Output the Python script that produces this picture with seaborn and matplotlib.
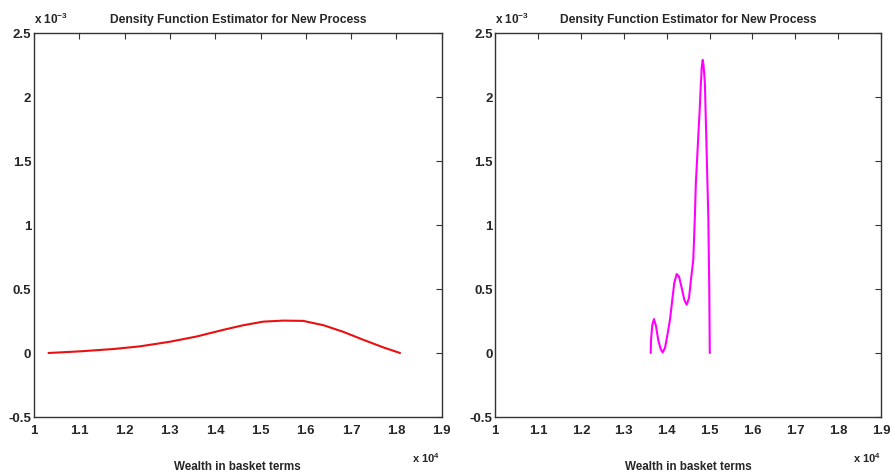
import matplotlib
matplotlib.use("Agg")
import matplotlib.pyplot as plt
import seaborn as sns

# Valores (x en unidades de 1e4, y en unidades de 1e-3)
left_wealth = [1.032, 1.102, 1.175, 1.234, 1.300, 1.359, 1.418, 1.462, 1.506,
               1.550, 1.594, 1.639, 1.683, 1.727, 1.771, 1.808]
left_density = [0.0, 0.013, 0.031, 0.052, 0.088, 0.129, 0.181, 0.217, 0.245,
                0.253, 0.251, 0.217, 0.165, 0.103, 0.044, 0.0]

right_wealth = [1.3626, 1.3633, 1.3664, 1.3703, 1.375, 1.3803, 1.386, 1.3906,
                1.396, 1.401, 1.4076, 1.413, 1.4176, 1.4233, 1.4286, 1.435,
                1.441, 1.4466, 1.452, 1.4566, 1.462, 1.464, 1.466, 1.468,
                1.471, 1.474, 1.477, 1.479, 1.4805, 1.4816, 1.484, 1.486,
                1.489, 1.493, 1.497, 1.4993, 1.5005]
right_density = [0.0, 0.10, 0.22, 0.265, 0.21, 0.10, 0.03, 0.005,
                 0.04, 0.13, 0.26, 0.416, 0.547, 0.617, 0.598, 0.508,
                 0.416, 0.377, 0.43, 0.573, 0.73, 0.91, 1.10, 1.33,
                 1.52, 1.72, 1.90, 2.06, 2.15, 2.23, 2.29, 2.245,
                 2.11, 1.59, 1.07, 0.5, 0.0]

x_ticks = [1.0, 1.1, 1.2, 1.3, 1.4, 1.5, 1.6, 1.7, 1.8, 1.9]
x_tick_labels = ["1", "1.1", "1.2", "1.3", "1.4", "1.5", "1.6", "1.7", "1.8", "1.9"]
y_ticks = [-0.5, 0, 0.5, 1, 1.5, 2, 2.5]
y_tick_labels = ["-0.5", "0", "0.5", "1", "1.5", "2", "2.5"]

titulo = "Density Function Estimator for New Process"
etiqueta_x = "Wealth in basket terms"

sns.set_style("white")
plt.rcParams['font.family'] = ['Liberation Sans', 'DejaVu Sans']
plt.rcParams['mathtext.default'] = 'regular'

fig = plt.figure(figsize=(8.92, 4.75), dpi=100)
W, H = 892, 475
ax1 = fig.add_axes([34 / W, 1 - 417 / H, (441.7 - 34) / W, (417 - 33) / H])
ax2 = fig.add_axes([495.3 / W, 1 - 417 / H, (881 - 495.3) / W, (417 - 33) / H])

paneles = [
    (ax1, left_wealth, left_density, "#e81010"),
    (ax2, right_wealth, right_density, "#ff00ff"),
]

for ax, x, y, color in paneles:
    sns.lineplot(x=x, y=y, ax=ax, color=color, linewidth=1.5,
                 estimator=None, sort=False)
    ax.set_xlim(1, 1.9)
    ax.set_ylim(-0.5, 2.5)
    ax.set_xticks(x_ticks)
    ax.set_xticklabels(x_tick_labels, fontsize=9.5, fontweight="bold")
    ax.set_yticks(y_ticks)
    ax.set_yticklabels(y_tick_labels, fontsize=9.5, fontweight="bold")
    ax.tick_params(axis="x", direction="in", top=True, length=4, width=0.8,
                   pad=6, color="#333333")
    ax.tick_params(axis="y", direction="in", right=True, length=4, width=0.8,
                   pad=2, color="#333333")
    for sp in ax.spines.values():
        sp.set_color("#333333")
        sp.set_linewidth(1.0)
    ax.set_title(titulo, fontsize=8.7, fontweight="bold", pad=7)
    ax.set_xlabel(etiqueta_x, fontsize=8.4, fontweight="bold", labelpad=17)
    ax.text(0.0, 1.015, "x 10$^{-3}$", transform=ax.transAxes, ha="left",
            va="bottom", fontsize=8.5, fontweight="bold")
    ax.text(0.927, -0.107, "x 10$^{4}$", transform=ax.transAxes, ha="left",
            va="center", fontsize=8, fontweight="bold")

plt.savefig("out.png", dpi=100)
